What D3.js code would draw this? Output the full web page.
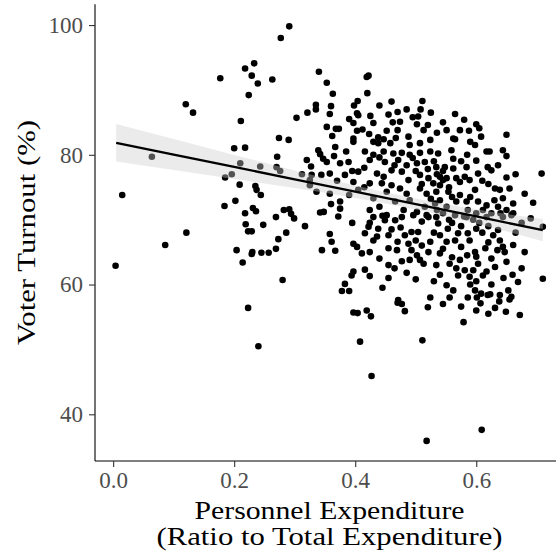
<!DOCTYPE html>
<html>
<head>
<meta charset="utf-8">
<script src="https://cdn.jsdelivr.net/npm/d3@7"></script>
<style>
  html, body { margin: 0; padding: 0; background: #fff; }
  svg { display: block; }
</style>
</head>
<body>
<svg id="chart" width="556" height="554"></svg>
<script>
// ---- data ----
const observations = [
  [0.291,99.8],[0.277,98.0],[0.233,94.1],[0.218,93.3],[0.229,92.2],[0.239,91.0],[0.177,91.8],[0.263,91.6],[0.224,89.2],[0.34,92.8],
  [0.12,87.8],[0.132,86.5],[0.211,85.2],[0.303,85.7],[0.321,86.5],[0.335,87.7],[0.335,87.0],
  [0.064,79.7],[0.015,73.8],[0.086,66.1],[0.121,68.0],[0.004,62.9],
  [0.274,82.6],[0.29,82.3],[0.2,81.0],[0.218,81.1],[0.339,80.7],[0.342,80.1],[0.347,79.4],[0.271,79.7],[0.32,79.2],[0.327,78.2],
  [0.21,78.7],[0.243,78.2],[0.27,78.1],[0.276,77.5],[0.312,77.0],[0.328,76.9],[0.344,76.9],[0.185,76.5],[0.196,77.0],[0.325,76.1],
  [0.325,75.3],[0.209,75.4],[0.235,75.2],[0.237,74.6],[0.244,73.8],[0.336,74.3],[0.184,72.1],[0.202,72.9],[0.231,71.8],[0.236,71.3],
  [0.218,71.0],[0.282,71.5],[0.291,71.6],[0.294,70.9],[0.299,70.2],[0.269,70.4],[0.342,71.1],[0.219,69.3],[0.248,69.2],[0.317,69.0],
  [0.223,68.2],[0.229,68.2],[0.286,68.0],[0.273,67.0],[0.204,65.3],[0.23,65.0],[0.229,64.7],[0.245,64.9],[0.257,64.9],[0.269,65.5],
  [0.214,63.4],[0.345,65.3],[0.28,60.7],[0.223,56.4],[0.24,50.5],[0.353,84.3],
  [0.353,91.1],[0.419,92.0],[0.422,92.2],[0.363,89.4],[0.36,87.5],[0.358,86.3],[0.362,82.9],[0.404,88.3],[0.398,87.6],[0.44,87.6],
  [0.511,88.3],[0.508,87.0],[0.504,85.9],[0.502,84.7],[0.47,86.6],[0.565,86.3],[0.403,86.4],[0.39,85.5],[0.397,84.9],[0.405,86.1],
  [0.425,86.0],[0.43,84.9],[0.462,85.0],[0.474,85.1],[0.368,84.0],[0.373,84.0],[0.403,83.7],[0.412,83.9],[0.423,83.2],[0.452,83.7],
  [0.47,83.8],[0.513,83.8],[0.535,83.4],[0.551,83.8],[0.573,83.8],[0.588,83.7],[0.605,84.1],[0.608,82.8],[0.65,83.1],[0.397,82.5],
  [0.438,82.7],[0.467,82.6],[0.488,82.8],[0.562,82.5],
  [0.397,82.0],[0.43,82.0],[0.438,81.8],[0.447,82.4],[0.458,81.8],[0.49,81.5],[0.507,81.8],[0.524,82.3],[0.367,81.2],[0.416,80.5],
  [0.43,80.0],[0.447,80.5],[0.463,80.2],[0.477,80.3],[0.49,80.0],[0.507,80.3],[0.524,80.5],[0.353,78.9],[0.375,78.7],[0.389,78.9],
  [0.424,79.2],[0.449,78.9],[0.471,79.2],[0.485,78.4],[0.502,78.7],[0.515,78.9],[0.358,77.1],[0.383,76.9],[0.405,77.4],[0.436,77.1],
  [0.447,76.6],[0.46,77.6],[0.477,77.4],[0.488,76.1],[0.507,76.9],[0.521,76.4],[0.397,75.8],[0.424,75.6],[0.444,75.6],[0.452,74.3],
  [0.474,74.8],[0.507,74.8],[0.518,74.0],[0.358,74.0],[0.405,74.6],[0.43,73.3],[0.375,72.8],[0.466,72.8],[0.49,73.0],[0.375,71.7],
  [0.424,71.5],[0.48,71.5],[0.502,71.2],[0.348,71.2],[0.452,70.7],[0.518,70.7],
  [0.565,82.4],[0.598,81.5],[0.537,80.2],[0.559,80.7],[0.562,79.4],[0.617,80.5],[0.622,80.5],[0.644,80.7],[0.65,79.8],[0.6,79.1],
  [0.534,78.1],[0.548,78.1],[0.562,77.9],[0.584,78.1],[0.619,78.1],[0.636,78.4],[0.625,77.6],[0.708,77.1],[0.54,76.6],[0.551,76.4],
  [0.567,76.4],[0.581,76.6],[0.603,77.1],[0.529,75.6],[0.54,75.3],[0.545,76.1],[0.573,75.8],[0.589,76.1],[0.534,74.3],[0.554,74.3],
  [0.598,74.6],[0.631,74.8],[0.639,74.6],[0.655,74.8],[0.573,73.8],[0.644,73.3],[0.54,73.0],[0.567,72.8],[0.584,72.8],[0.603,72.8],
  [0.617,72.2],[0.636,72.0],[0.661,72.5],[0.694,72.6],[0.586,71.5],[0.611,71.5],[0.65,71.5],[0.658,70.7],[0.551,72.0],[0.532,72.5],
  [0.372,70.5],[0.395,69.5],[0.43,70.4],[0.424,69.5],[0.422,68.9],[0.416,67.9],[0.438,68.6],[0.436,67.4],[0.449,69.9],[0.455,67.6],
  [0.466,69.9],[0.477,70.4],[0.496,70.7],[0.51,69.7],[0.521,70.4],[0.482,67.6],[0.493,68.1],[0.504,68.1],[0.524,66.6],[0.358,67.8],
  [0.361,66.6],[0.367,65.2],[0.397,66.3],[0.403,65.8],[0.411,64.8],[0.424,65.0],[0.455,65.6],[0.469,65.3],[0.488,66.3],[0.493,65.3],
  [0.477,63.6],[0.49,63.8],[0.502,64.5],[0.507,63.8],[0.513,63.2],[0.521,65.0],[0.455,63.0],[0.397,62.0],[0.394,61.4],[0.416,62.3],
  [0.424,61.3],[0.383,60.1],[0.378,59.0],[0.39,59.0],[0.445,59.5],[0.471,57.6],[0.524,58.0],
  [0.534,70.4],[0.565,70.7],[0.584,70.4],[0.6,71.0],[0.617,70.4],[0.644,70.4],[0.661,71.0],[0.71,68.9],[0.537,69.4],[0.553,68.6],
  [0.57,67.9],[0.586,67.9],[0.6,68.6],[0.636,68.4],[0.54,67.6],[0.551,66.6],[0.565,66.8],[0.589,66.8],[0.628,67.6],[0.639,66.8],
  [0.644,65.8],[0.661,66.1],[0.68,65.0],[0.647,65.0],[0.598,65.0],[0.6,64.3],[0.625,64.0],[0.54,64.8],[0.534,63.0],[0.556,63.2],
  [0.573,63.8],[0.567,62.5],[0.581,62.2],[0.595,62.2],[0.603,63.2],[0.617,62.0],[0.631,62.7],[0.65,63.5],[0.57,61.4],[0.589,61.2],
  [0.611,61.4],[0.669,60.4],[0.71,60.9],[0.551,59.9],[0.562,59.1],[0.598,59.1],[0.608,58.6],[0.619,58.4],[0.639,58.4],[0.653,59.1],
  [0.658,58.1],[0.556,58.0],[0.586,58.0],
  [0.397,55.7],[0.404,55.6],[0.419,56.0],[0.426,55.1],[0.47,57.2],[0.477,57.0],[0.482,55.9],[0.601,58.0],[0.607,57.1],[0.623,58.5],
  [0.638,57.4],[0.655,57.7],[0.631,56.4],[0.649,55.8],[0.672,55.3],[0.579,54.2],[0.408,51.2],[0.511,51.4],
  [0.427,45.9],[0.518,35.9],[0.609,37.6],
  [0.535,77.0],[0.545,77.5],[0.555,75.0],[0.56,73.5],[0.535,71.5],[0.545,71.0],[0.555,70.0],[0.56,69.5],[0.575,69.0],[0.58,70.5],
  [0.59,73.5],[0.595,70.0],[0.605,69.5],[0.61,68.0],[0.62,69.0],[0.625,71.0],[0.63,73.0],[0.64,71.0],[0.62,75.5],[0.61,76.0],
  [0.575,79.0],[0.585,80.0],[0.59,82.0],[0.53,79.0],[0.52,77.8],[0.525,73.2],[0.515,72.0],[0.51,75.5],[0.5,77.5],[0.495,79.5],
  [0.485,74.0],[0.46,75.3],[0.465,78.4],[0.44,79.6],[0.415,78.0],[0.415,75.0],[0.395,77.5],[0.385,80.5],[0.37,76.0],[0.365,79.8],
  [0.36,72.4],[0.39,73.8],[0.44,72.0],[0.445,70.6],[0.46,68.5],[0.47,66.6],[0.475,68.8],[0.5,66.8],[0.51,66.0],[0.53,68.0],
  [0.545,65.5],[0.56,64.2],[0.575,65.8],[0.585,64.5],[0.615,65.6],[0.62,66.5],[0.635,65.3],[0.59,60.0],[0.6,60.5],[0.625,60.0],
  [0.645,61.0],[0.54,61.5],[0.53,60.5],[0.5,60.8],[0.485,61.8],[0.465,62.5],[0.44,64.0],[0.43,66.8],[0.455,61.0],[0.52,56.5],
  [0.545,57.0],[0.575,56.6],[0.6,56.0],[0.62,55.5],[0.66,61.5],[0.675,62.5],[0.665,68.0],[0.675,69.5],[0.69,70.2],[0.65,76.5],
  [0.665,77.0],[0.68,74.0],[0.6,84.7],[0.58,85.4],[0.545,85.0],[0.525,86.5],[0.495,85.8],[0.485,87.0],[0.455,86.2],[0.42,89.5],
  [0.46,88.2],[0.52,84.6]
];

// fitted linear trend and its 95% band, read at several x positions
const fitRatio   = [0.005, 0.1, 0.2, 0.3, 0.4, 0.5, 0.6, 0.71];
const fitTurnout = [81.85, 80.04, 78.13, 76.22, 74.31, 72.40, 70.49, 68.39];
const fitLower   = [78.95, 77.64, 76.28, 74.87, 73.36, 71.55, 69.39, 66.69];
const fitUpper   = [84.75, 82.44, 79.98, 77.57, 75.26, 73.25, 71.59, 70.09];

const xTicks = [0.0, 0.2, 0.4, 0.6];
const yTicks = [40, 60, 80, 100];
const xTitleLines = ["Personnel Expenditure", "(Ratio to Total Expenditure)"];
const yTitle = "Voter Turnout (%)";

// ---- drawing ----
const svg = d3.select("#chart");
const FONT = "'Liberation Serif', 'DejaVu Serif', serif";

const x = d3.scaleLinear().domain([-0.03, 0.745]).range([95, 564]);
const y = d3.scaleLinear().domain([32.8, 103.2]).range([461, 4.3]);

// points
svg.append("g")
  .selectAll("circle")
  .data(observations)
  .join("circle")
  .attr("cx", d => x(d[0]))
  .attr("cy", d => y(d[1]))
  .attr("r", 3.3)
  .attr("fill", "#000");

// confidence band
const fitData = fitRatio.map((r, i) => ({r, m: fitTurnout[i], lo: fitLower[i], hi: fitUpper[i]}));
svg.append("path")
  .datum(fitData)
  .attr("d", d3.area().curve(d3.curveMonotoneX)
    .x(d => x(d.r)).y0(d => y(d.lo)).y1(d => y(d.hi)))
  .attr("fill", "#cdcdcd")
  .attr("fill-opacity", 0.4);

// fitted line
svg.append("path")
  .datum(fitData)
  .attr("d", d3.line().x(d => x(d.r)).y(d => y(d.m)))
  .attr("fill", "none")
  .attr("stroke", "#000")
  .attr("stroke-width", 2.3);

// axes
const xAxis = d3.axisBottom(x).tickValues(xTicks).tickFormat(d3.format(".1f")).tickSize(6).tickPadding(6);
const yAxis = d3.axisLeft(y).tickValues(yTicks).tickFormat(d3.format("d")).tickSize(6).tickPadding(6);

const gx = svg.append("g").attr("transform", "translate(0,461)").call(xAxis);
const gy = svg.append("g").attr("transform", "translate(95,0)").call(yAxis);

[gx, gy].forEach(g => {
  g.select(".domain").attr("stroke", "#000").attr("stroke-width", 1.1);
  g.selectAll(".tick line").attr("stroke", "#333").attr("stroke-width", 1.1);
  g.selectAll(".tick text")
    .attr("fill", "#4d4d4d")
    .style("font-family", FONT)
    .style("font-size", "23px");
});
gx.select(".domain").attr("d", "M95,0H556");
gy.select(".domain").attr("d", "M0,4.3V461");
gx.selectAll(".tick text").attr("dy", null).attr("y", 27);

// axis titles
svg.append("text")
  .attr("x", 329.5).attr("y", 519)
  .attr("text-anchor", "middle")
  .attr("textLength", 270).attr("lengthAdjust", "spacingAndGlyphs")
  .style("font-family", FONT).style("font-size", "25px")
  .text(xTitleLines[0]);
svg.append("text")
  .attr("x", 329.5).attr("y", 545)
  .attr("text-anchor", "middle")
  .attr("textLength", 346).attr("lengthAdjust", "spacingAndGlyphs")
  .style("font-family", FONT).style("font-size", "25px")
  .text(xTitleLines[1]);
svg.append("text")
  .attr("transform", "translate(35,232.5) rotate(-90)")
  .attr("text-anchor", "middle")
  .attr("textLength", 225).attr("lengthAdjust", "spacingAndGlyphs")
  .style("font-family", FONT).style("font-size", "26px")
  .text(yTitle);
</script>
</body>
</html>
